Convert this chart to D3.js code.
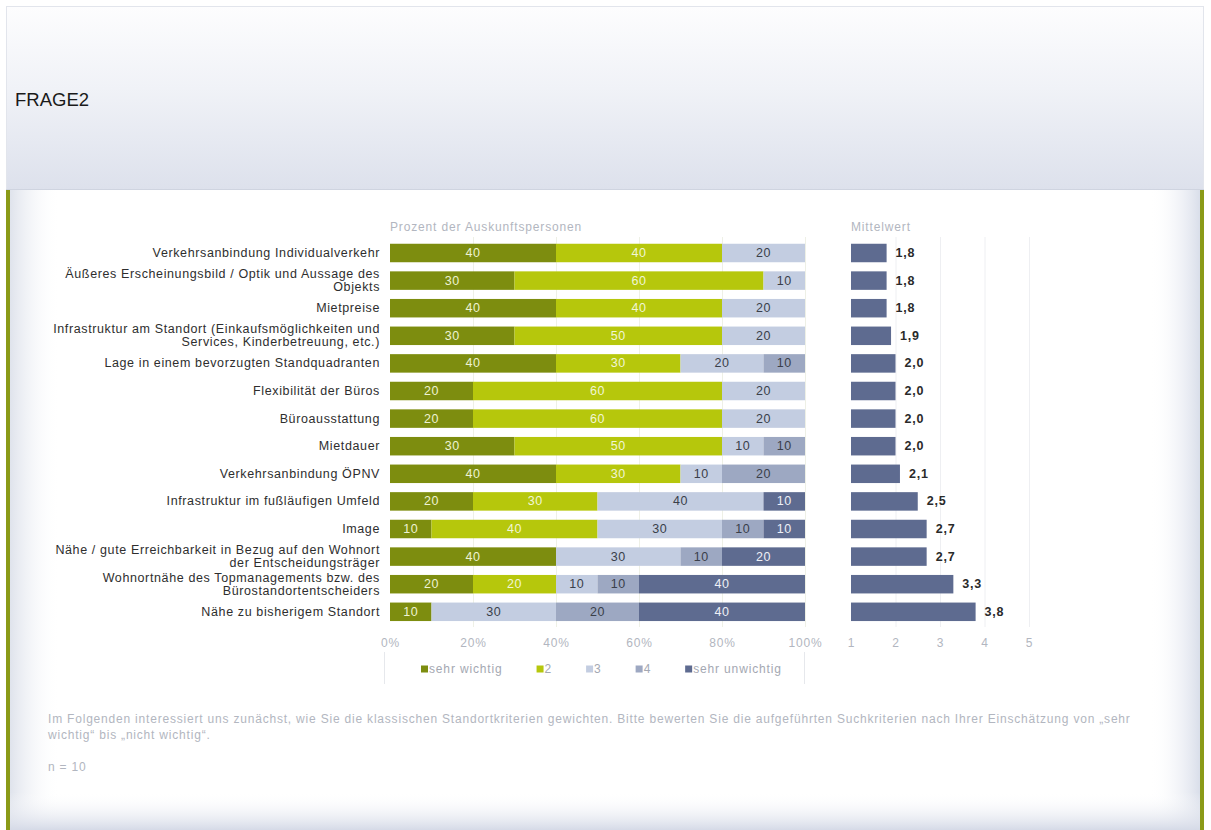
<!DOCTYPE html>
<html>
<head>
<meta charset="utf-8">
<script src="https://cdn.jsdelivr.net/npm/d3@7"></script>
<style>
  html, body { margin: 0; padding: 0; background: #ffffff; }
  svg { display: block; font-family: "Liberation Sans", Arial, sans-serif; }
</style>
</head>
<body>
<svg id="chart" width="1211" height="830"></svg>
<script>
// Survey question: importance of location criteria (share of respondents per rating, plus mean)
const categories = [
  "Verkehrsanbindung Individualverkehr",
  "Äußeres Erscheinungsbild / Optik und Aussage des|Objekts",
  "Mietpreise",
  "Infrastruktur am Standort (Einkaufsmöglichkeiten und|Services, Kinderbetreuung, etc.)",
  "Lage in einem bevorzugten Standquadranten",
  "Flexibilität der Büros",
  "Büroausstattung",
  "Mietdauer",
  "Verkehrsanbindung ÖPNV",
  "Infrastruktur im fußläufigen Umfeld",
  "Image",
  "Nähe / gute Erreichbarkeit in Bezug auf den Wohnort|der Entscheidungsträger",
  "Wohnortnähe des Topmanagements bzw. des|Bürostandortentscheiders",
  "Nähe zu bisherigem Standort"
];

const seriesNames = ["sehr wichtig", "2", "3", "4", "sehr unwichtig"];

// percentages per rating, one array per series (same order as categories)
const sehrWichtig   = [40, 30, 40, 30, 40, 20, 20, 30, 40, 20, 10, 40, 20, 10];
const stufe2        = [40, 60, 40, 50, 30, 60, 60, 50, 30, 30, 40,  0, 20,  0];
const stufe3        = [20, 10, 20, 20, 20, 20, 20, 10, 10, 40, 30, 30, 10, 30];
const stufe4        = [ 0,  0,  0,  0, 10,  0,  0, 10, 20,  0, 10, 10, 10, 20];
const sehrUnwichtig = [ 0,  0,  0,  0,  0,  0,  0,  0,  0, 10, 10, 20, 40, 40];

const means = [1.8, 1.8, 1.8, 1.9, 2.0, 2.0, 2.0, 2.0, 2.1, 2.5, 2.7, 2.7, 3.3, 3.8];

const percentTicks = [0, 20, 40, 60, 80, 100];
const meanTicks = [1, 2, 3, 4, 5];

const colors = ["#7d8d0f", "#b6c70c", "#c3cde1", "#9da8c2", "#5e6b90"];
const labelColors = ["#eef3d2", "#f1f6d6", "#3a3f4a", "#3a3f4a", "#eef0f6"];

const series = [sehrWichtig, stufe2, stufe3, stufe4, sehrUnwichtig];
const rows = categories.map((c, i) => {
  let acc = 0;
  const segs = series.map((s, k) => {
    const seg = { k, v: s[i], x0: acc, x1: acc + s[i] };
    acc += s[i];
    return seg;
  });
  return { cat: c, segs, mean: means[i] };
});

const svg = d3.select("#chart");
const defs = svg.append("defs");

// ---- page frame ----
const headGrad = defs.append("linearGradient").attr("id", "headGrad")
  .attr("x1", 0).attr("y1", 0).attr("x2", 0).attr("y2", 1);
headGrad.append("stop").attr("offset", "0%").attr("stop-color", "#fdfdfe");
headGrad.append("stop").attr("offset", "45%").attr("stop-color", "#f0f2f7");
headGrad.append("stop").attr("offset", "100%").attr("stop-color", "#dde1ec");

const leftShade = defs.append("linearGradient").attr("id", "leftShade")
  .attr("x1", 0).attr("y1", 0).attr("x2", 1).attr("y2", 0);
leftShade.append("stop").attr("offset", "0%").attr("stop-color", "#dfe3ec");
leftShade.append("stop").attr("offset", "100%").attr("stop-color", "#ffffff").attr("stop-opacity", 0);

const rightShade = defs.append("linearGradient").attr("id", "rightShade")
  .attr("x1", 1).attr("y1", 0).attr("x2", 0).attr("y2", 0);
rightShade.append("stop").attr("offset", "0%").attr("stop-color", "#d9deea");
rightShade.append("stop").attr("offset", "100%").attr("stop-color", "#ffffff").attr("stop-opacity", 0);

const bottomShade = defs.append("linearGradient").attr("id", "bottomShade")
  .attr("x1", 0).attr("y1", 1).attr("x2", 0).attr("y2", 0);
bottomShade.append("stop").attr("offset", "0%").attr("stop-color", "#d5dae7");
bottomShade.append("stop").attr("offset", "100%").attr("stop-color", "#ffffff").attr("stop-opacity", 0);

// body panel
svg.append("rect").attr("x", 6).attr("y", 189).attr("width", 1198).attr("height", 641).attr("fill", "#ffffff");
svg.append("rect").attr("x", 10).attr("y", 189).attr("width", 50).attr("height", 641).attr("fill", "url(#leftShade)");
svg.append("rect").attr("x", 1150).attr("y", 189).attr("width", 50).attr("height", 641).attr("fill", "url(#rightShade)");
svg.append("rect").attr("x", 10).attr("y", 792).attr("width", 1190).attr("height", 38).attr("fill", "url(#bottomShade)");
svg.append("rect").attr("x", 6).attr("y", 189).attr("width", 4).attr("height", 641).attr("fill", "#8a9a17");
svg.append("rect").attr("x", 1200).attr("y", 189).attr("width", 4).attr("height", 641).attr("fill", "#8a9a17");

// header
svg.append("rect").attr("x", 6.5).attr("y", 6.5).attr("width", 1197).attr("height", 183)
  .attr("fill", "url(#headGrad)").attr("stroke", "#e2e5ec").attr("stroke-width", 1);
svg.append("line").attr("x1", 6).attr("x2", 1204).attr("y1", 189.5).attr("y2", 189.5)
  .attr("stroke", "#cfd4e0");
svg.append("text").attr("x", 15).attr("y", 106).attr("font-size", 18.5).attr("fill", "#1a1a1a")
  .text("FRAGE2");

// ---- scales ----
const y = d3.scaleBand().domain(categories).range([239.2, 625.6]).paddingInner(0.33).paddingOuter(0.165);
const x = d3.scaleLinear().domain([0, 100]).range([390, 805]);
const xm = d3.scaleLinear().domain([1, 5]).range([851, 1029]);

const gridTop = 237, gridBottom = 627;
const greyText = "#b2b6c0";

// gridlines
svg.append("g").selectAll("line").data(percentTicks.slice(1)).join("line")
  .attr("x1", d => x(d) + 0.5).attr("x2", d => x(d) + 0.5)
  .attr("y1", gridTop).attr("y2", gridBottom)
  .attr("stroke", "#eef0e6");
svg.append("g").selectAll("line").data(meanTicks.slice(1)).join("line")
  .attr("x1", d => xm(d) + 0.5).attr("x2", d => xm(d) + 0.5)
  .attr("y1", gridTop).attr("y2", gridBottom)
  .attr("stroke", "#eeeff2");

// panel titles
svg.append("text").attr("x", 390).attr("y", 231).attr("font-size", 12).attr("letter-spacing", 0.85)
  .attr("fill", greyText).text("Prozent der Auskunftspersonen");
svg.append("text").attr("x", 851).attr("y", 231).attr("font-size", 12).attr("letter-spacing", 0.85)
  .attr("fill", greyText).text("Mittelwert");

// category labels (right aligned, optional second line)
const catG = svg.append("g").attr("font-size", 12.5).attr("letter-spacing", 0.62)
  .attr("fill", "#2e2e2e").attr("text-anchor", "end");
categories.forEach(c => {
  const lines = c.split("|");
  const cy = y(c) + y.bandwidth() / 2;
  const t = catG.append("text").attr("x", 380).attr("dominant-baseline", "central");
  if (lines.length === 1) {
    t.attr("y", cy).text(lines[0]);
  } else {
    t.append("tspan").attr("x", 380).attr("y", cy - 6.5).text(lines[0]);
    t.append("tspan").attr("x", 380).attr("y", cy + 6.5).text(lines[1]);
  }
});

// stacked bars
const rowG = svg.append("g").selectAll("g").data(rows).join("g")
  .attr("transform", d => `translate(0,${y(d.cat)})`);
rowG.selectAll("rect").data(d => d.segs.filter(s => s.v > 0)).join("rect")
  .attr("x", s => x(s.x0)).attr("width", s => x(s.x1) - x(s.x0))
  .attr("y", 0).attr("height", y.bandwidth())
  .attr("fill", s => colors[s.k]);
rowG.selectAll("text").data(d => d.segs.filter(s => s.v > 0)).join("text")
  .attr("x", s => (x(s.x0) + x(s.x1)) / 2).attr("y", y.bandwidth() / 2)
  .attr("dominant-baseline", "central").attr("text-anchor", "middle")
  .attr("font-size", 12.5).attr("letter-spacing", 0.6).attr("fill", s => labelColors[s.k])
  .text(s => s.v);

// mean bars
const meanG = svg.append("g").selectAll("g").data(rows).join("g")
  .attr("transform", d => `translate(0,${y(d.cat)})`);
meanG.append("rect")
  .attr("x", xm(1)).attr("width", d => xm(d.mean) - xm(1))
  .attr("y", 0).attr("height", y.bandwidth())
  .attr("fill", "#5e6b90");
meanG.append("text")
  .attr("x", d => xm(d.mean) + 9).attr("y", y.bandwidth() / 2)
  .attr("dominant-baseline", "central").attr("font-size", 12.5).attr("font-weight", "bold")
  .attr("letter-spacing", 0.8).attr("fill", "#2a2a2a")
  .text(d => d3.format(".1f")(d.mean).replace(".", ","));

// axes
const axisP = svg.append("g").attr("transform", "translate(0,643)")
  .call(d3.axisBottom(x).tickValues(percentTicks).tickFormat(d => d + "%").tickSize(0));
const axisM = svg.append("g").attr("transform", "translate(0,643)")
  .call(d3.axisBottom(xm).tickValues(meanTicks).tickFormat(d3.format("d")).tickSize(0));
[axisP, axisM].forEach(a => {
  a.select(".domain").remove();
  a.selectAll("text").attr("font-size", 12).attr("letter-spacing", 0.85).attr("fill", greyText)
    .attr("font-family", "\"Liberation Sans\", Arial, sans-serif")
    .attr("dy", 0).attr("y", 0).attr("dominant-baseline", "central");
});

// legend
const legend = svg.append("g");
legend.append("line").attr("x1", 384.5).attr("x2", 384.5).attr("y1", 652).attr("y2", 684).attr("stroke", "#e6e8ec");
legend.append("line").attr("x1", 804.5).attr("x2", 804.5).attr("y1", 652).attr("y2", 684).attr("stroke", "#e6e8ec");
let lx = 421;
seriesNames.forEach((name, k) => {
  const item = legend.append("g").attr("transform", `translate(${lx},669)`);
  item.append("rect").attr("x", 0).attr("y", -3.5).attr("width", 7).attr("height", 7).attr("fill", colors[k]);
  const t = item.append("text").attr("x", 8).attr("y", 0).attr("dominant-baseline", "central")
    .attr("font-size", 12).attr("letter-spacing", 0.85).attr("fill", "#a4a8b2").text(name);
  lx += 8 + t.node().getComputedTextLength() + 34;
});

// footnote
const foot = svg.append("g").attr("font-size", 12).attr("letter-spacing", 0.8).attr("fill", greyText);
foot.append("text").attr("x", 48).attr("y", 723)
  .text("Im Folgenden interessiert uns zunächst, wie Sie die klassischen Standortkriterien gewichten. Bitte bewerten Sie die aufgeführten Suchkriterien nach Ihrer Einschätzung von „sehr");
foot.append("text").attr("x", 48).attr("y", 739).text("wichtig“ bis „nicht wichtig“.");
foot.append("text").attr("x", 48).attr("y", 771).text("n = 10");
</script>
</body>
</html>
